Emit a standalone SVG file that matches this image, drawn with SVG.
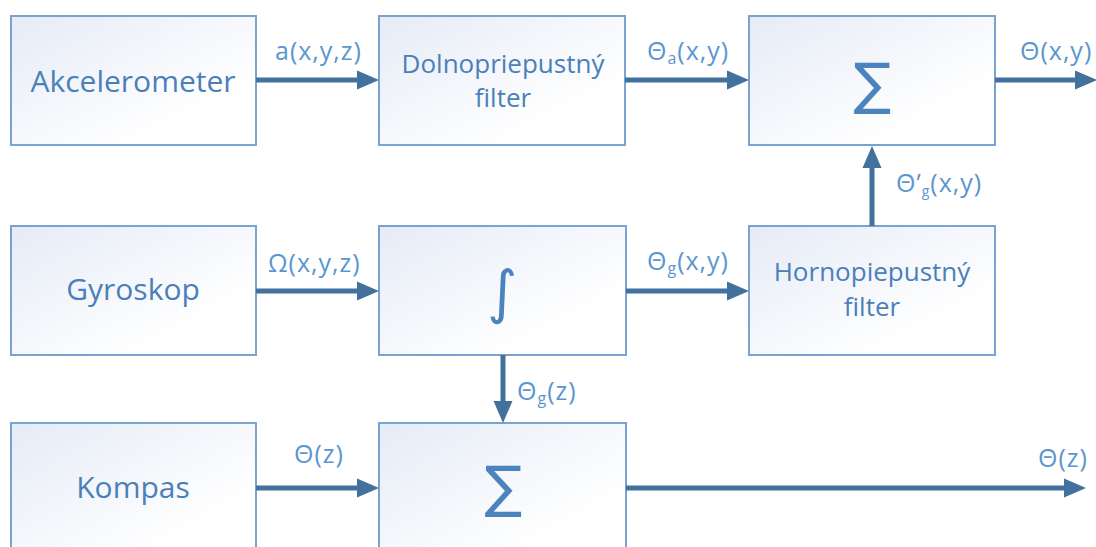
<svg xmlns="http://www.w3.org/2000/svg" width="1096" height="547" viewBox="0 0 1096 547">
<defs>
<linearGradient id="fill" x1="0" y1="0" x2="1" y2="1">
<stop offset="0" stop-color="#e5ebf6"/>
<stop offset="0.75" stop-color="#ffffff"/>
</linearGradient>
<style>
.box{fill:url(#fill);stroke:#7aa3d3;stroke-width:2}
.node{font-family:"Open Sans","Noto Sans",sans-serif;fill:#4a80ba;text-anchor:middle}
.lbl{font-family:"Open Sans","Noto Sans",sans-serif;fill:#5b96d0;font-size:25px;letter-spacing:1px}
.sym{font-family:"DejaVu Sans",sans-serif;fill:#4a83bd;text-anchor:middle}
.con{stroke:#41719c;stroke-width:5;fill:none}
.head{fill:#41719c}
</style>
</defs>
<rect width="1096" height="547" fill="#ffffff"/>
<g id="akcelerometer"><rect class="box" x="11" y="16" width="245" height="129"/><text class="node" x="133" y="92" font-size="30">Akcelerometer</text></g>
<g id="dolnopriepustny"><rect class="box" x="379" y="16" width="246" height="129"/><text class="node" x="503" y="73" font-size="26">Dolnopriepustný</text><text class="node" x="503" y="107" font-size="26">filter</text></g>
<g id="sum1"><rect class="box" x="749" y="16" width="246" height="129"/><text class="sym" x="872" y="103" font-size="56">∑</text></g>
<g id="gyroskop"><rect class="box" x="11" y="226" width="245" height="129"/><text class="node" x="133" y="300" font-size="30">Gyroskop</text></g>
<g id="integral"><rect class="box" x="379" y="226" width="247" height="129"/><text class="sym" x="502" y="312" font-size="58">∫</text></g>
<g id="hornopiepustny"><rect class="box" x="749" y="226" width="246" height="129"/><text class="node" x="872" y="281" font-size="26">Hornopiepustný</text><text class="node" x="872" y="316" font-size="26">filter</text></g>
<g id="kompas"><rect class="box" x="11" y="423" width="245" height="140"/><text class="node" x="133" y="498" font-size="30">Kompas</text></g>
<g id="sum2"><rect class="box" x="379" y="423" width="247" height="140"/><text class="sym" x="503" y="506" font-size="56">∑</text></g>
<g id="connectors">
<path class="con" d="M256,80 H360"/><polygon class="head" points="379,80 357,70.5 357,89.5"/>
<path class="con" d="M625,80 H730"/><polygon class="head" points="749,80 727,70.5 727,89.5"/>
<path class="con" d="M995,80 H1078"/><polygon class="head" points="1097,80 1075,70.5 1075,89.5"/>
<path class="con" d="M872,226 V165"/><polygon class="head" points="872,146 862.5,168 881.5,168"/>
<path class="con" d="M256,291 H360"/><polygon class="head" points="379,291 357,281.5 357,300.5"/>
<path class="con" d="M626,291 H730"/><polygon class="head" points="749,291 727,281.5 727,300.5"/>
<path class="con" d="M503,355 V404"/><polygon class="head" points="503,423 493.5,401 512.5,401"/>
<path class="con" d="M256,488 H360"/><polygon class="head" points="379,488 357,478.5 357,497.5"/>
<path class="con" d="M626,488 H1067"/><polygon class="head" points="1086,488 1064,478.5 1064,497.5"/>
</g>
<g id="labels">
<text class="lbl" x="275" y="60">a(x,y,z)</text>
<text class="lbl" x="647" y="60">Θ<tspan font-size="16" dy="4">a</tspan><tspan dy="-4">(x,y)</tspan></text>
<text class="lbl" x="1020" y="60">Θ(x,y)</text>
<text class="lbl" x="896" y="192" font-size="21" letter-spacing="0.8">Θ’<tspan font-size="14" dy="4">g</tspan><tspan dy="-4">(x,y)</tspan></text>
<text class="lbl" x="268" y="272">Ω(x,y,z)</text>
<text class="lbl" x="647" y="270">Θ<tspan font-size="16" dy="4">g</tspan><tspan dy="-4">(x,y)</tspan></text>
<text class="lbl" x="517" y="400">Θ<tspan font-size="16" dy="4">g</tspan><tspan dy="-4">(z)</tspan></text>
<text class="lbl" x="294" y="463">Θ(z)</text>
<text class="lbl" x="1038" y="467">Θ(z)</text>
</g>
</svg>
